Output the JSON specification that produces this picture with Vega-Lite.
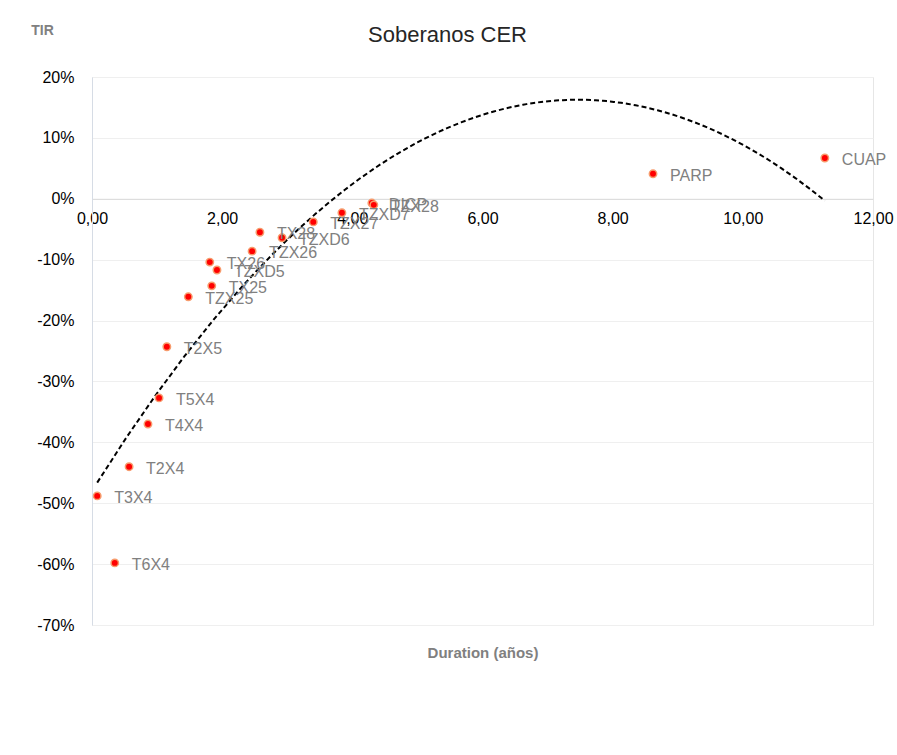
{
  "$schema": "https://vega.github.io/schema/vega-lite/v6.json",
  "autosize": "none",
  "width": 781,
  "height": 548,
  "padding": {"left": 92, "top": 77, "right": 24, "bottom": 130},
  "background": "white",
  "title": {
    "text": "Soberanos CER",
    "font": "Liberation Sans",
    "fontSize": 22,
    "fontWeight": "normal",
    "color": "#262626",
    "anchor": "middle",
    "dx": -35,
    "offset": -41,
    "baseline": "alphabetic"
  },
  "config": {
    "view": {"stroke": "#e6e6e6", "strokeWidth": 1},
    "axis": {"labelFont": "Liberation Sans", "titleFont": "Liberation Sans"}
  },
  "data": {
    "values": [
      {"bono": "T6X4", "duration": 0.35, "tir": -0.598},
      {"bono": "T3X4", "duration": 0.08, "tir": -0.488},
      {"bono": "T2X4", "duration": 0.57, "tir": -0.440},
      {"bono": "T4X4", "duration": 0.86, "tir": -0.370},
      {"bono": "T5X4", "duration": 1.03, "tir": -0.327},
      {"bono": "T2X5", "duration": 1.15, "tir": -0.243},
      {"bono": "TZX25", "duration": 1.48, "tir": -0.161},
      {"bono": "TX25", "duration": 1.84, "tir": -0.143},
      {"bono": "TX26", "duration": 1.81, "tir": -0.104},
      {"bono": "TZXD5", "duration": 1.92, "tir": -0.117},
      {"bono": "TZX26", "duration": 2.46, "tir": -0.086},
      {"bono": "TX28", "duration": 2.58, "tir": -0.055},
      {"bono": "TZXD6", "duration": 2.92, "tir": -0.064},
      {"bono": "TZX27", "duration": 3.40, "tir": -0.038},
      {"bono": "TZXD7", "duration": 3.84, "tir": -0.023},
      {"bono": "DICP", "duration": 4.30, "tir": -0.007},
      {"bono": "TZX28", "duration": 4.33, "tir": -0.010},
      {"bono": "PARP", "duration": 8.62, "tir": 0.041},
      {"bono": "CUAP", "duration": 11.26, "tir": 0.067}
    ]
  },
  "encoding": {
    "x": {
      "field": "duration",
      "type": "quantitative",
      "scale": {"domain": [0, 12], "nice": false, "zero": false},
      "axis": {
        "title": "Duration (años)",
        "orient": "bottom",
        "offset": -426.2,
        "values": [0, 2, 4, 6, 8, 10, 12],
        "labelExpr": "replace(format(datum.value, '.2f'), '.', ',')",
        "labelFontSize": 16,
        "labelColor": "#000000",
        "labelPadding": 12,
        "labelFlush": false,
        "labelOverlap": false,
        "ticks": false,
        "grid": false,
        "domainColor": "#d9d9d9",
        "titleFontSize": 15,
        "titleFontWeight": "bold",
        "titleColor": "#808080",
        "titleY": 454,
        "titleBaseline": "middle"
      }
    },
    "y": {
      "field": "tir",
      "type": "quantitative",
      "scale": {"domain": [-0.7, 0.2], "nice": false, "zero": false},
      "axis": {
        "title": "TIR",
        "values": [-0.7, -0.6, -0.5, -0.4, -0.3, -0.2, -0.1, 0, 0.1, 0.2],
        "labelExpr": "replace(format(datum.value, '.0%'), '−', '-')",
        "labelFontSize": 16,
        "labelColor": "#000000",
        "labelPadding": 18,
        "ticks": false,
        "grid": true,
        "gridColor": "#efefef",
        "domainColor": "#d6dce5",
        "titleFontSize": 14,
        "titleFontWeight": "bold",
        "titleColor": "#808080",
        "titleAngle": 0,
        "titleX": -50,
        "titleY": -47,
        "titleAlign": "center",
        "titleBaseline": "middle"
      }
    }
  },
  "layer": [
    {
      "transform": [
        {"regression": "tir", "on": "duration", "method": "poly", "order": 2, "extent": [0.08, 11.26]}
      ],
      "mark": {"type": "line", "color": "#000000", "strokeWidth": 2, "strokeDash": [5, 3]}
    },
    {
      "mark": {"type": "point", "filled": true, "shape": "circle", "size": 55, "fill": "#ff0000", "stroke": "#f79b6c", "strokeWidth": 1.5, "opacity": 1}
    },
    {
      "mark": {"type": "text", "align": "left", "baseline": "middle", "dx": 17, "dy": 2, "font": "Liberation Sans", "fontSize": 16, "color": "#808080"},
      "encoding": {"text": {"field": "bono"}}
    }
  ]
}
